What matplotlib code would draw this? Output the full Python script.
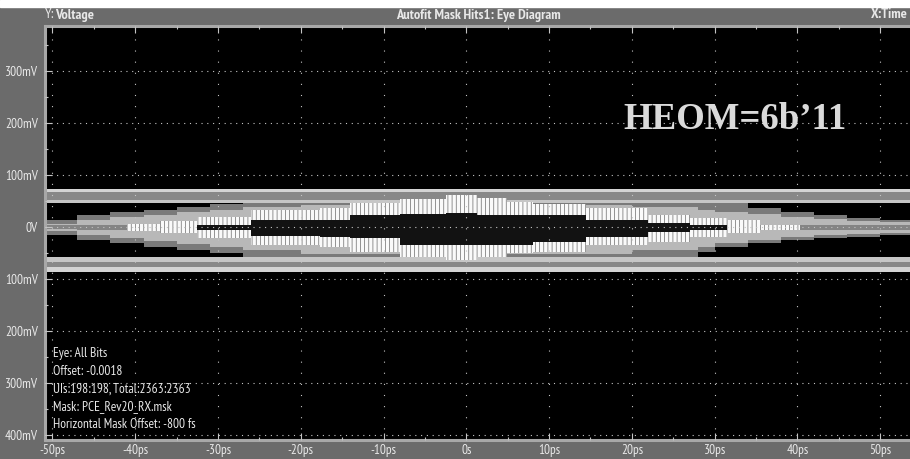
import numpy as np
import matplotlib
matplotlib.use("Agg")
import matplotlib.pyplot as plt
from matplotlib.patches import Rectangle
from matplotlib.ticker import MultipleLocator
from matplotlib import font_manager
from matplotlib.font_manager import FontProperties

# ---- axis ticks -------------------------------------------------------------
x_ticks = [-50, -40, -30, -20, -10, 0, 10, 20, 30, 40, 50]
x_tick_labels = ["-50ps", "-40ps", "-30ps", "-20ps", "-10ps", "0s",
                 "10ps", "20ps", "30ps", "40ps", "50ps"]
y_ticks = [-400, -300, -200, -100, 0, 100, 200, 300]
y_tick_labels = ["400mV", "300mV", "200mV", "100mV", "0V",
                 "100mV", "200mV", "300mV"]

# ---- settled logic levels: stripe boundaries in mV (outside -> inside) -------
upper_rail = [73, 67, 52, 46.7]
lower_rail = [-86, -77, -67, -58]
rail_colors = ["#d4d4d4", "#888888", "#c6c6c6"]

# ---- transition persistence: segment edges (ps) and bounds (mV) ------------
lens_t = [-51, -47, -43, -39, -35, -31, -27, -20, 20, 28, 30, 34, 38, 42, 46, 50, 54]
lens_outer_top = [13, 23, 29, 33, 38, 44, 47, 47, 47, 46, 46, 36, 29, 23, 17, 13]
lens_outer_bot = [-15, -25, -31, -38, -44, -50, -58, -58, -58, -48, -38, -31, -25, -21, -19, -15]
lens_mid_top = [6, 13, 19, 23, 29, 33, 38, 42, 38, 33, 29, 25, 19, 15, 12, 10]
lens_mid_bot = [-8, -15, -21, -27, -33, -38, -44, -52, -44, -38, -31, -25, -19, -15, -13, -11]
lens_core_top = [3, 4, 4, 4, 4, 4, 4, 4, 4, 4, 4, 4, 4, 4, 4, 4]
lens_core_bot = [-4, -6, -6, -6, -6, -6, -6, -6, -6, -6, -6, -6, -6, -6, -6, -6]

# ---- mask hits: segment edges (ps) and bounds (mV) -------------------------
hit_t = [-41, -37, -32.5, -26, -17.7, -14, -8, -2.4, 1.3, 4.9, 8, 14.5, 22, 27, 31.5, 35.5, 40.3]
hit_outer_top = [5, 11, 19, 33, 36, 46, 54, 62, 56, 48, 45, 36, 23, 17, 13, 4]
hit_inner_top = [0, 0, 4, 13, 13, 23, 25, 26, 23, 23, 23, 13, 8, 4, 0, 0]
hit_inner_bot = [0, 0, -6, -17, -19, -21, -35, -35, -35, -35, -29, -19, -9, -6, 0, 0]
hit_outer_bot = [-7, -12, -21, -35, -38, -48, -57, -63, -57, -50, -48, -35, -29, -19, -12, -6]

info_lines = ["Eye: All Bits", "Offset: -0.0018", "UIs:198:198, Total:2363:2363",
              "Mask: PCE_Rev20_RX.msk", "Horizontal Mask Offset: -800 fs"]
info_y = [-244, -278, -312, -346, -380]

# ---- fonts: a narrow sans with real regular and bold faces ------------------
faces = {}
for f in font_manager.fontManager.ttflist:
    if f.style == "normal":
        faces.setdefault(f.name, set()).add(f.weight)
preferred = ["PT Sans Narrow", "Pragati Narrow", "Arial Narrow", "Liberation Sans Narrow",
             "Archivo Narrow", "Roboto Condensed", "Asap Condensed", "Encode Sans Condensed",
             "Liberation Sans"]
base_family = next((n for n in preferred if n in faces and 400 in faces[n] and 700 in faces[n]),
                   next((n for n in preferred if n in faces), "DejaVu Sans"))
serif = "Liberation Serif" if "Liberation Serif" in faces else "DejaVu Serif"


def fp(size=9, weight="normal"):
    return FontProperties(family=[base_family, "DejaVu Sans"], size=size, weight=weight)


plt.rcParams["hatch.linewidth"] = 0.5

BG = "#6b6b6b"
TXT = "#e8e8e8"
GRID = "#c4c4c4"
W, H = 910, 459

fig = plt.figure(figsize=(W / 100, H / 100), dpi=100, facecolor=BG)
ax = fig.add_axes([45 / W, (H - 440) / H, 865 / W, 414 / H])
ax.set_facecolor("black")
ax.set_xlim(-50.9, 53.6)
ax.set_ylim(-409.6, 386.5)


def steps(edges, vals):
    return np.asarray(edges, float), np.append(vals, vals[-1]).astype(float)


# transition cloud
t, top = steps(lens_t, lens_outer_top)
_, bot = steps(lens_t, lens_outer_bot)
ax.fill_between(t, bot, top, step="post", color="#7a7a7a", lw=0, zorder=1)
_, top = steps(lens_t, lens_mid_top)
_, bot = steps(lens_t, lens_mid_bot)
ax.fill_between(t, bot, top, step="post", color="#b8b8b8", lw=0, zorder=1.1)
_, top = steps(lens_t, lens_core_top)
_, bot = steps(lens_t, lens_core_bot)
ax.fill_between(t, bot, top, step="post", color="#848484", lw=0, zorder=1.2)

# settled rails
for rail in (upper_rail, lower_rail):
    for k in range(3):
        ax.axhspan(rail[k], rail[k + 1], color=rail_colors[k], lw=0, zorder=1.3)

# mask hits and open eye
t, otop = steps(hit_t, hit_outer_top)
_, obot = steps(hit_t, hit_outer_bot)
_, itop = steps(hit_t, hit_inner_top)
_, ibot = steps(hit_t, hit_inner_bot)
ax.fill_between(t, obot, otop, step="post", facecolor="#fafafa",
                edgecolor="#6a6a6a", hatch="||||", lw=0, zorder=1.5)
ax.fill_between(t, ibot, itop, step="post", color="#121212", lw=0, zorder=1.6)

# grid and ticks
ax.set_xticks(x_ticks, x_tick_labels)
ax.set_yticks(y_ticks, y_tick_labels)
ax.xaxis.set_minor_locator(MultipleLocator(5))
ax.yaxis.set_minor_locator(MultipleLocator(50))
ax.xaxis.grid(True, which="major", color=GRID, lw=0.8, linestyle=(0, (1, 9)))
ax.yaxis.grid(True, which="major", color=GRID, lw=0.8, linestyle=(0, (1, 4.2)))
ax.set_axisbelow(False)
ax.tick_params(which="both", direction="in", top=True, bottom=True,
               left=True, right=False, color=GRID, width=0.8, labelcolor=TXT)
ax.tick_params(which="major", length=5)
ax.tick_params(which="minor", length=2.5)
ax.tick_params(axis="y", pad=5)
ax.tick_params(axis="x", pad=3)

for side in ("left", "top", "bottom"):
    ax.spines[side].set_color("#a8a8a8")
    ax.spines[side].set_linewidth(2.2)
ax.spines["right"].set_visible(False)

# annotation block
info_texts = [ax.text(-49.9, yv, line, color=TXT, fontproperties=fp(),
                      va="center", ha="left", zorder=5)
              for line, yv in zip(info_lines, info_y)]

heom = ax.text(32.5, 206, "HEOM=6b\u201911", family=serif, fontweight="bold",
               fontsize=26, color="#dadada", ha="center", va="center", zorder=5)

# header strip
fig.patches.append(Rectangle((0, 1 - 7 / H), 1, 7 / H, transform=fig.transFigure,
                             color="white", zorder=0))
yt = 1 - 15 / H
hdr_y = fig.text(45 / W, yt, "Y:", color=TXT, fontproperties=fp(), va="center", ha="left")
hdr_v = fig.text(55 / W, yt, "Voltage", color=TXT, fontproperties=fp(weight="bold"),
                 va="center", ha="left")
hdr_t = fig.text(478 / W, yt, "Autofit Mask Hits1: Eye Diagram", color=TXT,
                 fontproperties=fp(weight="bold"), va="center", ha="center")
hdr_x = fig.text(908 / W, yt, "X:Time", color=TXT, fontproperties=fp(weight="bold"),
                 va="center", ha="right")

# size the narrow-face texts so their rendered widths fit the layout
renderer = fig.canvas.get_renderer()


def fitted(txt, target, lo=6, hi=12):
    w = txt.get_window_extent(renderer=renderer).width
    s = txt.get_fontsize() * target / max(w, 1)
    return float(min(max(s, lo), hi))


probe = fig.text(0, 0, "300mV", fontproperties=fp())
tick_size = fitted(probe, 33)
probe.remove()
for lab in ax.get_xticklabels() + ax.get_yticklabels():
    lab.set_fontproperties(fp(tick_size))

info_size = fitted(info_texts[-1], 144)
for tx in info_texts:
    tx.set_fontproperties(fp(info_size))

title_size = fitted(hdr_t, 166)
for tx in (hdr_v, hdr_t, hdr_x):
    tx.set_fontproperties(fp(title_size, "bold"))
hdr_y.set_fontproperties(fp(title_size))
hdr_v.set_x((45 + hdr_y.get_window_extent(renderer=renderer).width + 1) / W)

heom.set_fontsize(fitted(heom, 223, 18, 34))

fig.savefig("out.png", dpi=100, facecolor=BG)
